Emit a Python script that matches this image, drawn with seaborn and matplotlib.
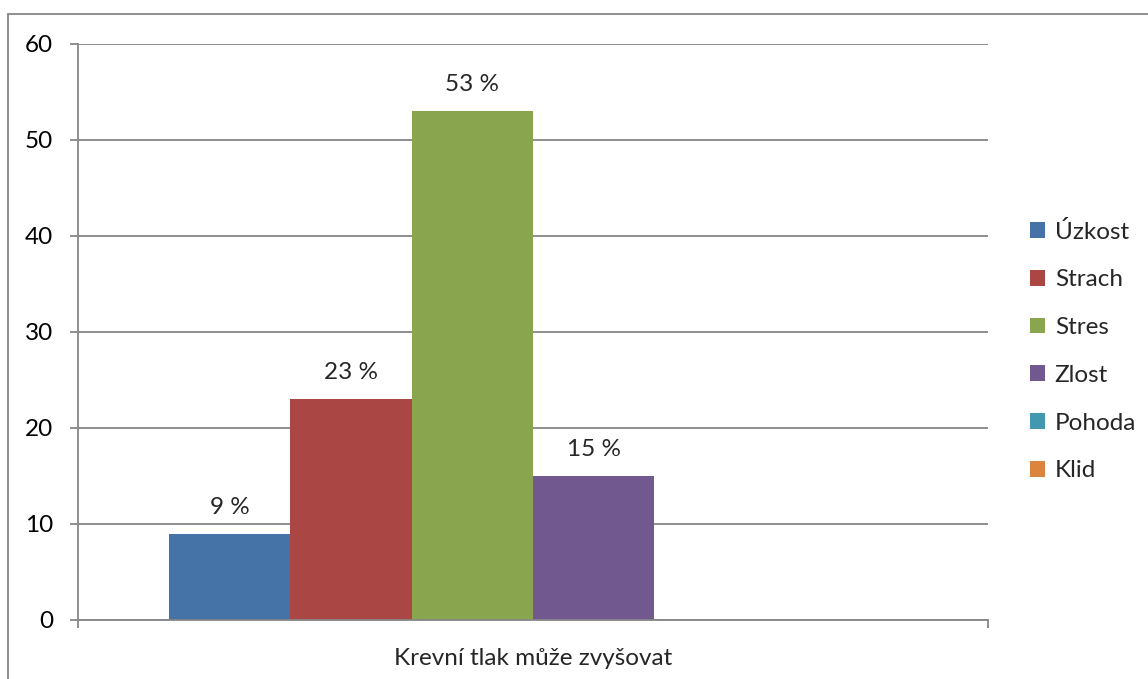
import matplotlib
matplotlib.use("Agg")
import matplotlib.pyplot as plt
import matplotlib.lines as mlines
import matplotlib.patches as mpatches
import seaborn as sns
import pandas as pd

# Data
category = "Krevní tlak může zvyšovat"
series = ["Úzkost", "Strach", "Stres", "Zlost", "Pohoda", "Klid"]
values = [9, 23, 53, 15, 0, 0]
colors = ["#4572A7", "#AA4643", "#89A54E", "#71588F", "#4198AF", "#DB843D"]
y_ticks = [0, 10, 20, 30, 40, 50, 60]

sns.set_theme(style="white")
plt.rcParams["font.family"] = ["Lato", "DejaVu Sans"]

df = pd.DataFrame({"kategorie": [category] * len(series),
                   "emoce": series,
                   "hodnota": values})

W, H = 1148, 679
fig = plt.figure(figsize=(W / 100, H / 100), dpi=100)
ax = fig.add_axes([78 / W, 1 - 620 / H, (988 - 78) / W, (620 - 44) / H])

palette = dict(zip(series, colors))
sns.barplot(data=df, x="kategorie", y="hodnota", hue="emoce",
            hue_order=series, palette=palette, width=0.8,
            saturation=1, linewidth=0, legend=False, ax=ax)

grid_color = "#868686"
fs = 17.5
ax.set_ylim(0, 60)
ax.set_xlim(-0.5, 0.5)
ax.set_yticks(y_ticks)
ax.set_yticklabels([str(t) for t in y_ticks], fontsize=fs, color="#000000")
ax.yaxis.grid(True, color=grid_color, linewidth=1.3)
ax.set_axisbelow(True)
ax.tick_params(axis="y", which="major", length=6, width=1.3,
               color=grid_color, direction="out", pad=12, left=True)

# category label and boundary ticks on the x axis
ax.set_xticks([0])
ax.set_xticklabels([category], fontsize=fs)
ax.set_xticks([-0.5, 0.5], minor=True)
ax.tick_params(axis="x", which="major", length=0, pad=20)
ax.tick_params(axis="x", which="minor", length=6, width=1.3,
               color=grid_color, direction="out", bottom=True)
ax.set_xlabel("")
ax.set_ylabel("")

for side in ["top", "right"]:
    ax.spines[side].set_visible(False)
for side in ["left", "bottom"]:
    ax.spines[side].set_color(grid_color)
    ax.spines[side].set_linewidth(1.3)

# value labels above the non-empty bars
for cont, val in zip(ax.containers, values):
    for bar in cont:
        if val > 0:
            ax.annotate(f"{val} %",
                        (bar.get_x() + bar.get_width() / 2, bar.get_height()),
                        xytext=(0, 19), textcoords="offset points",
                        ha="center", va="center", fontsize=fs)

# legend on the right
handles = [mpatches.Patch(facecolor=c, edgecolor="none", label=s)
           for s, c in zip(series, colors)]
fig.legend(handles=handles, loc="center left",
           bbox_to_anchor=(1030 / W, 1 - 351 / H), frameon=False,
           fontsize=fs, handlelength=0.62, handleheight=0.62,
           handletextpad=0.4, labelspacing=1.1, borderaxespad=0,
           borderpad=0)

# chart area border (left and top edges)
fig.add_artist(mlines.Line2D([8 / W, 8 / W], [0, 1 - 14 / H],
                             transform=fig.transFigure, color=grid_color, lw=1.3))
fig.add_artist(mlines.Line2D([8 / W, 1], [1 - 14 / H, 1 - 14 / H],
                             transform=fig.transFigure, color=grid_color, lw=1.3))

fig.savefig("out.png", dpi=100, facecolor="white")
